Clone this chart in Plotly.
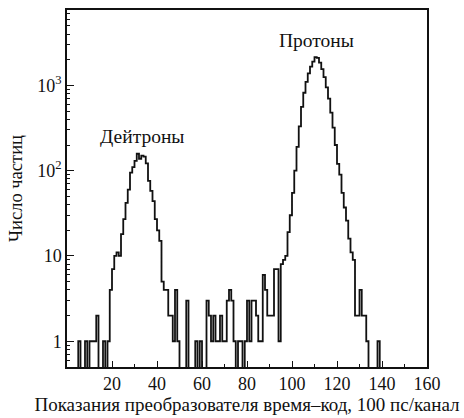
import plotly.graph_objects as go

# channel bins [k, k+1], k = 0..159 ; counts
channels = list(range(0, 160))
counts = [
    0, 0, 0, 0, 0, 1, 0, 0, 1, 0,            # 0-9
    1, 1, 1, 2, 0, 0, 1, 0, 1, 4,            # 10-19
    7, 10, 11, 10, 18, 27, 42, 60, 95, 110,  # 20-29
    130, 158, 138, 150, 146, 122, 76, 58, 44, 27,  # 30-39
    20, 15, 5, 4, 4, 2, 2, 1, 4, 1,          # 40-49
    0, 0, 0, 3, 0, 0, 0, 1, 0, 1,            # 50-59
    0, 0, 3, 2, 1, 2, 1, 1, 2, 1,            # 60-69
    1, 3, 4, 3, 1, 0, 1, 1, 0, 1,            # 70-79
    3, 1, 3, 3, 2, 1, 1, 6, 4, 2,            # 80-89
    2, 2, 7, 7, 1, 8, 9, 10, 19, 30,         # 90-99
    55, 100, 190, 330, 560, 820, 1100, 1380, 1660, 1900,  # 100-109
    2150, 2100, 1850, 1550, 1250, 950, 700, 480, 320, 200,  # 110-119
    120, 90, 55, 37, 26, 16, 11, 9, 2, 2,    # 120-129
    4, 2, 2, 1, 0, 0, 0, 0, 1, 0,            # 130-139
    0, 0, 0, 0, 0, 0, 0, 0, 0, 0,            # 140-149
    0, 0, 0, 0, 0, 0, 0, 0, 0, 0,            # 150-159
]

x_ticks = [20, 40, 60, 80, 100, 120, 140, 160]
y_ticks = [1, 10, 100, 1000]
y_ticktext = ["1", "10", "10<sup>2</sup>", "10<sup>3</sup>"]

labels = ["Дейтроны", "Протоны"]
label_x = [33.5, 110.8]
label_y = [2.40, 3.53]

x_title = "Показания преобразователя время–код, 100 пс/канал"
y_title = "Число частиц"

# outline of histogram: bin edges, zero bins drawn below the visible range
FLOOR = 0.1
edges = channels + [channels[-1] + 1]
vals = [c if c > 0 else FLOOR for c in counts]
vals = vals + [vals[-1]]

FONT = '"Liberation Serif", "Times New Roman", serif'

fig = go.Figure()
fig.add_trace(go.Scatter(
    x=edges, y=vals, mode="lines", line_shape="hv",
    line=dict(color="#111111", width=1.8), showlegend=False, hoverinfo="skip",
))

for t, xx, yy in zip(labels, label_x, label_y):
    fig.add_annotation(x=xx, y=yy, xref="x", yref="y", text=t, showarrow=False,
                       font=dict(family=FONT, size=19.5, color="#111111"))

minor_y = [m * d for d in (0.1, 1, 10, 100) for m in range(2, 10)]
minor_y = [v for v in minor_y if v > 0.5 and v not in y_ticks] + [1000 * i for i in range(2, 8)]

fig.update_layout(
    width=464, height=418,
    margin=dict(l=67, r=37, t=8, b=50),
    paper_bgcolor="white", plot_bgcolor="white",
    font=dict(family=FONT, size=17, color="#111111"),
    xaxis=dict(
        range=[0, 160], showgrid=False, zeroline=False,
        showline=True, linecolor="#111111", linewidth=1.5, mirror=True,
        tickmode="array", tickvals=x_ticks,
        ticks="inside", ticklen=6, tickwidth=1.2, tickcolor="#111111",
        minor=dict(tickmode="array", tickvals=list(range(10, 160, 20)), ticks="inside",
                   ticklen=3, tickwidth=1.2, tickcolor="#111111"),
        tickfont=dict(family=FONT, size=18),
        title=dict(text=x_title, font=dict(family=FONT, size=19), standoff=2),
    ),
    yaxis=dict(
        type="log", range=[-0.302, 3.884], showgrid=False, zeroline=False,
        showline=True, linecolor="#111111", linewidth=1.5, mirror=True,
        tickmode="array", tickvals=y_ticks, ticktext=y_ticktext,
        ticks="inside", ticklen=7, tickwidth=1.2, tickcolor="#111111",
        minor=dict(tickmode="array", tickvals=minor_y, ticks="inside",
                   ticklen=3.5, tickwidth=1.2, tickcolor="#111111"),
        tickfont=dict(family=FONT, size=18),
        title=dict(text=y_title, font=dict(family=FONT, size=18.5), standoff=10),
    ),
)

fig.write_html("out.html", config={"displayModeBar": False},
               post_script="document.body.style.margin='0';")
